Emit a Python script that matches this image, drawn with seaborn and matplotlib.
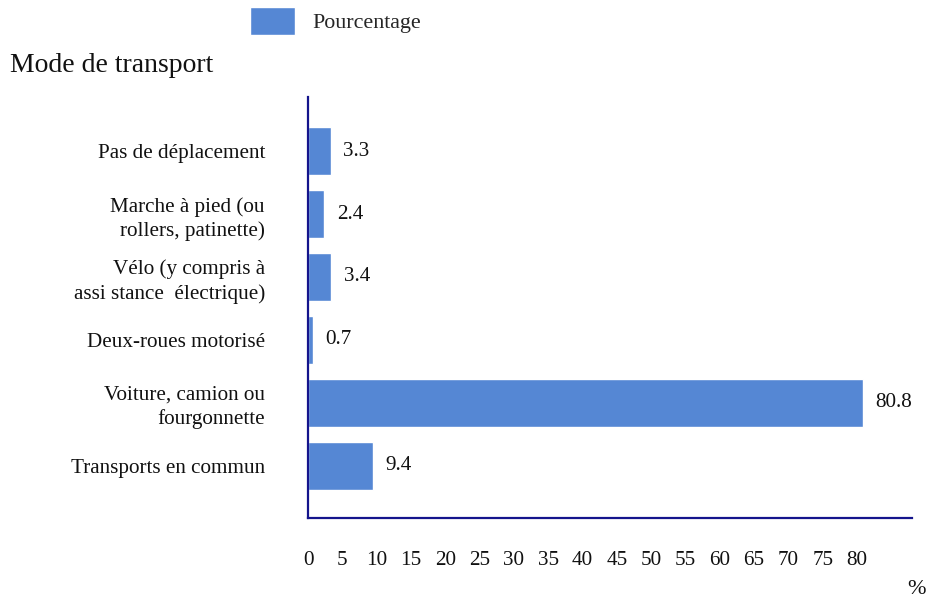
import matplotlib
matplotlib.use("Agg")
import matplotlib.pyplot as plt
import seaborn as sns
import pandas as pd

categories = [
    "Pas de déplacement",
    "Marche à pied (ou\nrollers, patinette)",
    "Vélo (y compris à\nassi stance  électrique)",
    "Deux-roues motorisé",
    "Voiture, camion ou\nfourgonnette",
    "Transports en commun",
]
values = [3.3, 2.4, 3.4, 0.7, 80.8, 9.4]
tick_values = list(range(0, 85, 5))
series_name = "Pourcentage"

sns.set_theme(style="white")
plt.rcParams["font.family"] = ["Liberation Serif", "DejaVu Serif"]

bar_color = "#5587D4"
axis_color = "#14148C"
fs = 15.2

fig = plt.figure(figsize=(9.4, 6.01), dpi=100)
ax = fig.add_axes([308 / 940, 1 - 518 / 601, (912 - 308) / 940, (518 - 97) / 601])

df = pd.DataFrame({"mode": categories, "val": values})
sns.barplot(data=df, x="val", y="mode", orient="h", color=bar_color,
            width=0.77, ax=ax, label=series_name, saturation=1)

ax.set_xlim(0, 88)
ax.set_ylim(5.83, -0.86)
ax.set_xticks(tick_values)
ax.set_xticklabels([str(t) for t in tick_values], fontsize=fs, color="#111111")
ax.tick_params(axis="x", length=0, pad=24)
ax.tick_params(axis="y", length=0, pad=31, labelsize=fs, labelcolor="#111111")
for lbl in ax.get_yticklabels():
    lbl.set_horizontalalignment("right")
    lbl.set_multialignment("right")
    lbl.set_linespacing(1.3)
ax.set_xlabel("")
ax.set_ylabel("")

for side in ["top", "right"]:
    ax.spines[side].set_visible(False)
for side in ["left", "bottom"]:
    ax.spines[side].set_color(axis_color)
    ax.spines[side].set_linewidth(1.6)

for cont in ax.containers:
    ax.bar_label(cont, labels=[f"{v:.1f}" for v in values], padding=9,
                 fontsize=fs, color="#111111")

ax.legend(loc="upper left", bbox_to_anchor=(250 / 940, 1 - 7 / 601),
          bbox_transform=fig.transFigure, frameon=False, fontsize=15.8,
          handlelength=2.05, handleheight=1.6, handletextpad=0.8, borderpad=0,
          borderaxespad=0)

fig.text(10 / 940, 1 - 66 / 601, "Mode de transport", fontsize=20,
         va="center", ha="left", color="#111111")
fig.text(917 / 940, 1 - 590 / 601, "%", fontsize=16, va="center",
         ha="center", color="#111111")

fig.savefig("out.png", dpi=100)
